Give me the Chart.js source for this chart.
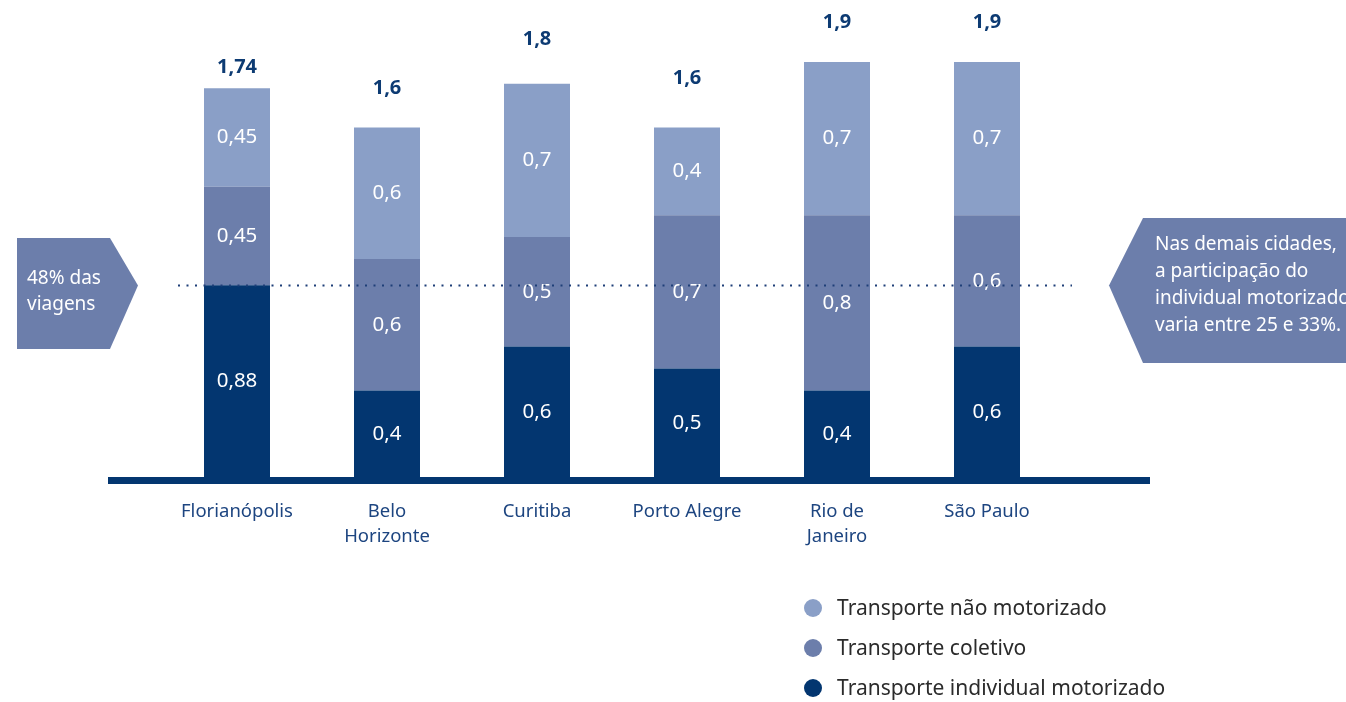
<!DOCTYPE html>
<html lang="pt-BR">
<head>
<meta charset="utf-8">
<title>Divisão modal por cidade</title>
<script src="https://cdn.jsdelivr.net/npm/chart.js@4/dist/chart.umd.min.js"></script>
<style>
  html, body { margin: 0; padding: 0; background: #fff; }
  #wrap { width: 1346px; height: 702px; position: relative; }
</style>
</head>
<body>
<div id="wrap"><canvas id="modalChart" width="1346" height="702"></canvas></div>
<script>
const cities = [['Florianópolis'], ['Belo', 'Horizonte'], ['Curitiba'], ['Porto Alegre'], ['Rio de', 'Janeiro'], ['São Paulo']];
const individualMotorizado = [0.88, 0.4, 0.6, 0.5, 0.4, 0.6];
const coletivo = [0.45, 0.6, 0.5, 0.7, 0.8, 0.6];
const naoMotorizado = [0.45, 0.6, 0.7, 0.4, 0.7, 0.7];
const totals = [1.74, 1.6, 1.8, 1.6, 1.9, 1.9];

const FONT = "'Noto Sans', 'Liberation Sans', Arial, sans-serif";
const LIGHT = '#8a9fc7';
const MID = '#6c7eab';
const DARK = '#033670';
const TEXT_BLUE = '#0d3b73';

// how far each total sits above its stack
const totalLift = [21, 39, 45, 49, 40, 40];

const fmt = v => String(v).replace('.', ',');

const overlay = {
  id: 'overlay',
  afterDatasetsDraw(chart) {
    const ctx = chart.ctx;
    const y = chart.scales.y;
    ctx.save();

    // values inside each segment
    ctx.fillStyle = '#fff';
    ctx.font = '20.5px ' + FONT;
    ctx.textAlign = 'center';
    ctx.textBaseline = 'middle';
    chart.data.datasets.forEach((ds, i) => {
      chart.getDatasetMeta(i).data.forEach((bar, j) => {
        ctx.fillText(fmt(ds.data[j]), bar.x, (bar.y + bar.base) / 2);
      });
    });

    // totals above the stacks
    const top = chart.getDatasetMeta(chart.data.datasets.length - 1).data;
    ctx.fillStyle = TEXT_BLUE;
    ctx.font = 'bold 20px ' + FONT;
    top.forEach((bar, j) => {
      ctx.fillText(fmt(totals[j]), bar.x, bar.y - totalLift[j]);
    });

    // dotted reference at the Florianópolis individual share
    const refY = Math.round(y.getPixelForValue(individualMotorizado[0])) + 0.5;
    ctx.strokeStyle = '#1e3f78';
    ctx.lineWidth = 2;
    ctx.setLineDash([2, 6.5]);
    ctx.beginPath();
    ctx.moveTo(178, refY);
    ctx.lineTo(1072, refY);
    ctx.stroke();
    ctx.setLineDash([]);

    // base line
    ctx.fillStyle = DARK;
    ctx.fillRect(108, chart.chartArea.bottom - 1, 1042, 7);

    // left callout
    ctx.fillStyle = MID;
    ctx.beginPath();
    ctx.moveTo(17, 238);
    ctx.lineTo(110, 238);
    ctx.lineTo(138, refY);
    ctx.lineTo(110, 349);
    ctx.lineTo(17, 349);
    ctx.closePath();
    ctx.fill();

    // right callout
    ctx.beginPath();
    ctx.moveTo(1143, 218);
    ctx.lineTo(1346, 218);
    ctx.lineTo(1346, 363);
    ctx.lineTo(1143, 363);
    ctx.lineTo(1109, refY);
    ctx.closePath();
    ctx.fill();

    ctx.fillStyle = '#fff';
    ctx.font = '19px ' + FONT;
    ctx.textAlign = 'left';
    ctx.fillText('48% das', 27, 279);
    ctx.fillText('viagens', 27, 305);
    ['Nas demais cidades,', 'a participação do', 'individual motorizado', 'varia entre 25 e 33%.']
      .forEach((t, k) => ctx.fillText(t, 1155, 245 + k * 26.7));

    // legend, lightest series first
    ctx.font = '21px ' + FONT;
    const order = [2, 1, 0];
    order.forEach((di, k) => {
      const ds = chart.data.datasets[di];
      const cy = 608 + k * 40;
      ctx.fillStyle = ds.backgroundColor;
      ctx.beginPath();
      ctx.arc(813, cy, 9, 0, Math.PI * 2);
      ctx.fill();
      ctx.fillStyle = '#2b2b2b';
      ctx.fillText(ds.label, 837, cy + 1);
    });

    ctx.restore();
  }
};

new Chart(document.getElementById('modalChart'), {
  type: 'bar',
  data: {
    labels: cities,
    datasets: [
      { label: 'Transporte individual motorizado', data: individualMotorizado, backgroundColor: DARK },
      { label: 'Transporte coletivo', data: coletivo, backgroundColor: MID },
      { label: 'Transporte não motorizado', data: naoMotorizado, backgroundColor: LIGHT }
    ]
  },
  options: {
    responsive: false,
    animation: false,
    layout: { padding: { left: 162, right: 284, top: 40, bottom: 0 } },
    datasets: { bar: { categoryPercentage: 1, barPercentage: 0.44, borderWidth: 0 } },
    plugins: {
      legend: { display: false },
      tooltip: { enabled: false }
    },
    scales: {
      x: {
        stacked: true,
        grid: { display: false, drawTicks: false },
        border: { display: false },
        ticks: {
          color: '#1d4580',
          font: { family: FONT, size: 18.5, lineHeight: 1.35 },
          padding: 21,
          maxRotation: 0,
          autoSkip: false
        },
        afterFit(scale) { scale.height = 224; }
      },
      y: {
        stacked: true,
        display: false,
        min: 0,
        max: 2
      }
    }
  },
  plugins: [overlay]
});
</script>
</body>
</html>
